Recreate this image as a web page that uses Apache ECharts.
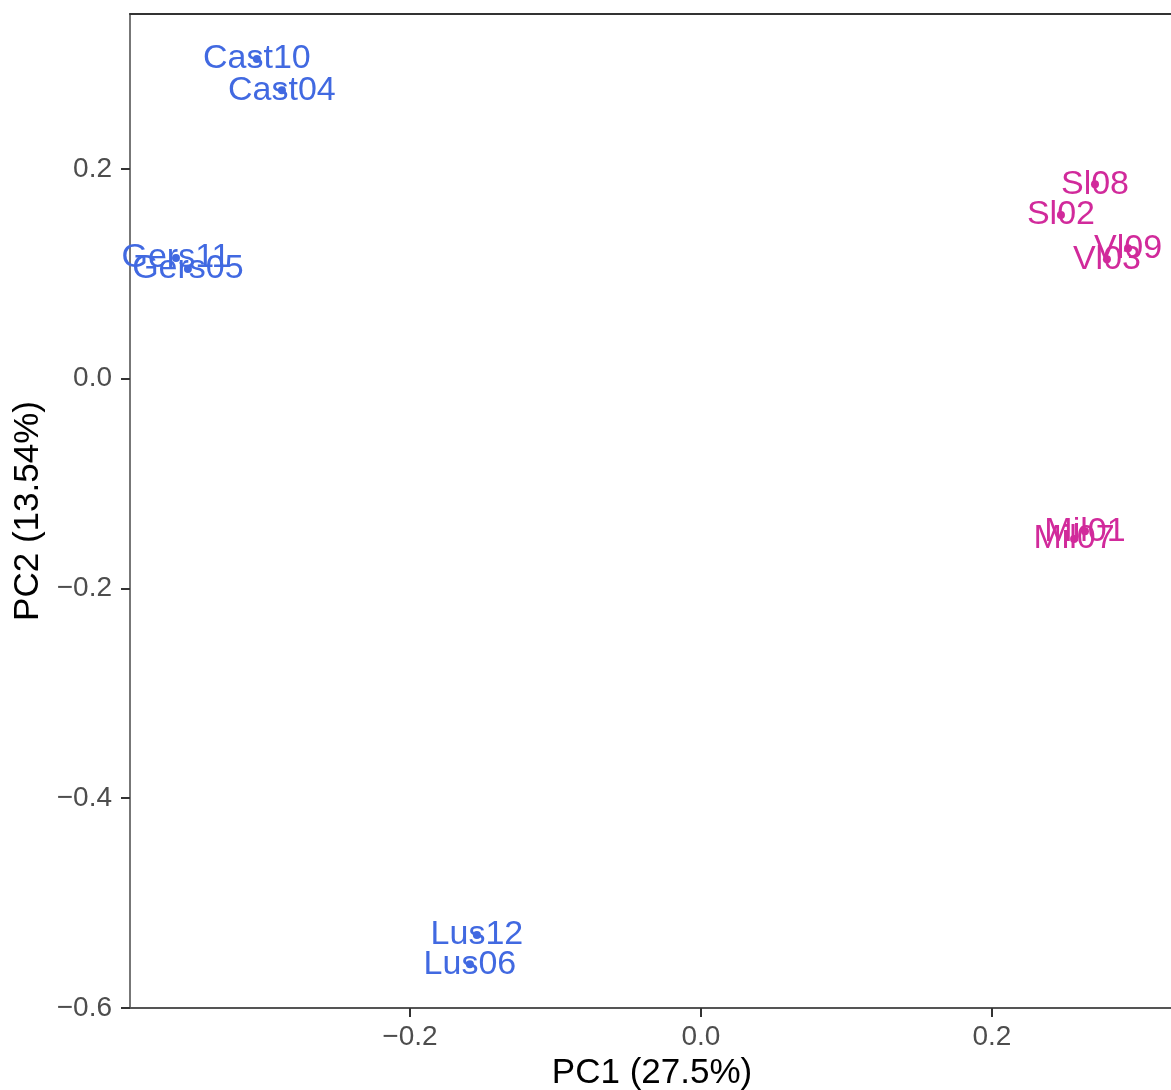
<!DOCTYPE html>
<html>
<head>
<meta charset="utf-8">
<script src="https://cdn.jsdelivr.net/npm/echarts@6/dist/echarts.min.js"></script>
<style>
html,body{margin:0;padding:0;background:#fff;}
#chart{width:1171px;height:1090px;}
</style>
</head>
<body>
<div id="chart"></div>
<script>
// Sample names, PC scores and groups
var samples = ['Cast10','Cast04','Gers11','Gers05','Lus12','Lus06','Sl08','Sl02','Vl09','Vl03','Mil01','Mil07'];
var pc1 = [-0.3052,-0.2880,-0.3608,-0.3526,-0.1540,-0.1588,0.2708,0.2474,0.2935,0.2790,0.2639,0.2564];
var pc2 = [0.3046,0.2750,0.1149,0.1044,-0.5305,-0.5582,0.1854,0.1559,0.1244,0.1139,-0.1454,-0.1530];
var group = ['A','A','A','A','A','A','B','B','B','B','B','B'];
var groupNames = ['A','B'];
var groupColors = ['#4169E1','#D12A9B'];
var xTicks = [-0.2, 0, 0.2];
var yTicks = [-0.6, -0.4, -0.2, 0, 0.2];
var xTitle = 'PC1 (27.5%)';
var yTitle = 'PC2 (13.54%)';

function fmt(v){
  var s = Math.abs(v).toFixed(1);
  return (v < -1e-9 ? '\u2212' : '') + s;
}

var series = groupNames.map(function(g, gi){
  var data = [];
  samples.forEach(function(s, i){
    if (group[i] === g) data.push({value:[pc1[i], pc2[i]], name:s});
  });
  return {
    type:'scatter',
    data:data,
    symbolSize:8,
    itemStyle:{color:groupColors[gi], opacity:1},
    label:{
      show:true,
      position:'inside',
      formatter:function(p){return p.name;},
      color:groupColors[gi],
      opacity:1,
      fontSize:34,
      fontFamily:'Liberation Sans',
      align:'center',
      verticalAlign:'middle'
    },
    labelLayout:{hideOverlap:false},
    emphasis:{disabled:true}
  };
});

var xMin = -0.3924, xMax = 0.3251;
var chart = echarts.init(document.getElementById('chart'), null, {renderer:'canvas'});
chart.setOption({
  animation:false,
  backgroundColor:'#ffffff',
  grid:{left:130, top:14, width:1044, height:994, show:false, containLabel:false, outerBoundsMode:'none'},
  xAxis:[{
    type:'value', min:xMin, max:xMax,
    name:xTitle, nameLocation:'middle', nameGap:46,
    nameTextStyle:{fontSize:35, color:'#000', fontFamily:'Liberation Sans'},
    axisLine:{show:true, onZero:false, lineStyle:{color:'#555', width:2}},
    axisTick:{show:true, length:9, lineStyle:{color:'#333', width:2}, customValues:xTicks},
    axisLabel:{show:true, fontSize:28, color:'#4d4d4d', fontFamily:'Liberation Sans', margin:15, customValues:xTicks, formatter:function(v){return fmt(v);}},
    splitLine:{show:false}
  },{
    type:'value', min:xMin, max:xMax, position:'top',
    axisLine:{show:true, onZero:false, lineStyle:{color:'#333', width:2}},
    axisTick:{show:false}, axisLabel:{show:false}, splitLine:{show:false}
  }],
  yAxis:{
    type:'value', min:-0.6, max:0.3476,
    name:yTitle, nameLocation:'middle', nameGap:84, nameRotate:90,
    nameTextStyle:{fontSize:35, color:'#000', fontFamily:'Liberation Sans'},
    axisLine:{show:true, onZero:false, lineStyle:{color:'#777', width:2}},
    axisTick:{show:true, length:9, lineStyle:{color:'#333', width:2}, customValues:yTicks},
    axisLabel:{show:true, fontSize:28, color:'#4d4d4d', fontFamily:'Liberation Sans', margin:18, customValues:yTicks, formatter:function(v){return fmt(v);}},
    splitLine:{show:false}
  },
  series:series
});
</script>
</body>
</html>
